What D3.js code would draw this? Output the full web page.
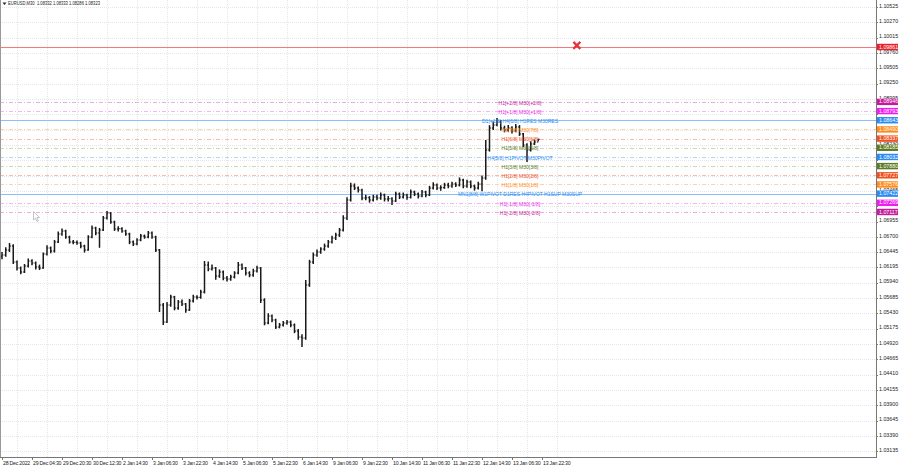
<!DOCTYPE html>
<html><head><meta charset="utf-8">
<script src="https://cdn.jsdelivr.net/npm/d3@7"></script>
<style>
body{margin:0;background:#fff;}
svg{display:block;font-family:"Liberation Sans",Arial,sans-serif;}
</style></head><body>
<svg id="c" width="900" height="468"></svg>
<script>
// ---------- DATA ----------
const chartTitle = "EURUSD,M30  1.08332 1.08333 1.08286 1.08323";
const firstOpen = 1.06380;
const closes = [1.06400,1.06483,1.06549,1.06283,1.06183,1.06117,1.06217,1.06300,1.06267,1.06200,
 1.06183,1.06416,1.06516,1.06466,1.06616,1.06749,1.06799,1.06699,1.06616,1.06610,
 1.06599,1.06549,1.06483,1.06699,1.06849,1.06766,1.06815,1.07015,1.07098,1.06949,
 1.06832,1.06838,1.06799,1.06749,1.06616,1.06583,1.06649,1.06716,1.06699,1.06766,
 1.06699,1.06483,1.05568,1.05285,1.05568,1.05701,1.05518,1.05618,1.05585,1.05485,
 1.05635,1.05701,1.05695,1.05784,1.06233,1.06167,1.06183,1.06050,1.06117,1.06017,
 1.06000,1.06034,1.06100,1.06233,1.06183,1.06100,1.06067,1.06134,1.06183,1.05651,
 1.05269,1.05385,1.05318,1.05202,1.05235,1.05269,1.05285,1.05235,1.05136,1.05036,
 1.05019,1.05901,1.06283,1.06400,1.06450,1.06499,1.06549,1.06616,1.06682,1.06732,
 1.06815,1.07015,1.07314,1.07547,1.07514,1.07481,1.07348,1.07352,1.07314,1.07364,
 1.07348,1.07398,1.07331,1.07335,1.07298,1.07414,1.07364,1.07398,1.07360,1.07448,
 1.07414,1.07381,1.07448,1.07398,1.07514,1.07564,1.07514,1.07520,1.07564,1.07547,
 1.07581,1.07564,1.07647,1.07547,1.07614,1.07547,1.07514,1.07581,1.07680,1.08146,
 1.08512,1.08562,1.08612,1.08512,1.08479,1.08512,1.08462,1.08529,1.08412,1.08229,
 1.08146,1.08246,1.08279,1.08323];
const highs = [1.06450,1.06530,1.06599,1.06580,1.06310,1.06210,1.06250,1.06340,1.06330,1.06290,
 1.06240,1.06440,1.06560,1.06540,1.06650,1.06790,1.06840,1.06820,1.06720,1.06650,
 1.06640,1.06620,1.06570,1.06730,1.06890,1.06870,1.06850,1.07050,1.07131,1.07110,
 1.06970,1.06880,1.06860,1.06820,1.06770,1.06640,1.06680,1.06750,1.06740,1.06800,
 1.06790,1.06720,1.06500,1.05600,1.05620,1.05740,1.05720,1.05650,1.05660,1.05600,
 1.05670,1.05740,1.05730,1.05820,1.06300,1.06290,1.06240,1.06200,1.06160,1.06140,
 1.06050,1.06070,1.06130,1.06283,1.06260,1.06200,1.06130,1.06170,1.06220,1.06200,
 1.05680,1.05430,1.05410,1.05340,1.05270,1.05300,1.05320,1.05310,1.05260,1.05170,
 1.05080,1.05984,1.06320,1.06440,1.06490,1.06530,1.06590,1.06650,1.06720,1.06770,
 1.06850,1.07060,1.07360,1.07600,1.07590,1.07540,1.07500,1.07400,1.07380,1.07400,
 1.07400,1.07440,1.07420,1.07380,1.07360,1.07450,1.07440,1.07440,1.07420,1.07490,
 1.07470,1.07440,1.07480,1.07470,1.07550,1.07610,1.07590,1.07560,1.07600,1.07600,
 1.07620,1.07610,1.07690,1.07670,1.07650,1.07640,1.07570,1.07620,1.07720,1.08312,
 1.08560,1.08620,1.08679,1.08640,1.08550,1.08560,1.08540,1.08580,1.08560,1.08430,
 1.08260,1.08290,1.08320,1.08333];
const lows = [1.06330,1.06370,1.06450,1.06250,1.06140,1.06080,1.06100,1.06190,1.06230,1.06160,
 1.06150,1.06170,1.06390,1.06430,1.06440,1.06600,1.06720,1.06670,1.06590,1.06580,
 1.06570,1.06510,1.06440,1.06470,1.06680,1.06730,1.06520,1.06800,1.06990,1.06920,
 1.06800,1.06790,1.06770,1.06720,1.06580,1.06550,1.06560,1.06630,1.06670,1.06680,
 1.06670,1.06450,1.05452,1.05235,1.05270,1.05540,1.05480,1.05490,1.05550,1.05440,
 1.05470,1.05610,1.05660,1.05670,1.05760,1.06130,1.06140,1.05990,1.06020,1.05980,
 1.05960,1.05970,1.06010,1.06080,1.06150,1.06060,1.06030,1.06040,1.06110,1.05600,
 1.05230,1.05250,1.05280,1.05170,1.05180,1.05210,1.05240,1.05200,1.05100,1.04990,
 1.04869,1.04990,1.05870,1.06250,1.06370,1.06420,1.06470,1.06520,1.06590,1.06650,
 1.06700,1.06790,1.06980,1.07290,1.07480,1.07440,1.07310,1.07310,1.07270,1.07290,
 1.07310,1.07320,1.07290,1.07290,1.07230,1.07280,1.07330,1.07340,1.07320,1.07340,
 1.07380,1.07340,1.07360,1.07360,1.07380,1.07490,1.07480,1.07470,1.07500,1.07510,
 1.07520,1.07530,1.07540,1.07510,1.07520,1.07510,1.07470,1.07490,1.07460,1.07650,
 1.08120,1.08480,1.08540,1.08470,1.08440,1.08450,1.08420,1.08440,1.08380,1.08190,
 1.07947,1.08120,1.08230,1.08286];
const timeLabels = ["28 Dec 2022","29 Dec 04:30","29 Dec 20:30","30 Dec 12:30","2 Jan 14:30",
 "3 Jan 06:30","3 Jan 22:30","4 Jan 14:30","5 Jan 06:30","5 Jan 22:30","6 Jan 14:30",
 "9 Jan 06:30","9 Jan 22:30","10 Jan 14:30","11 Jan 06:30","11 Jan 22:30","12 Jan 14:30",
 "13 Jan 06:30","13 Jan 22:30"];
const priceTickLabels = ["1.10525","1.10270","1.10015","1.09760","1.09505","1.09250","1.08995",
 "1.08740","1.08485","1.08230","1.07975","1.07720","1.07465","1.07210","1.06955","1.06700",
 "1.06445","1.06195","1.05940","1.05685","1.05430","1.05175","1.04920","1.04665","1.04410",
 "1.04155","1.03900","1.03645","1.03390","1.03135"];
// tick labels hidden behind the coloured price boxes in the reference
const coveredTickLabels = ["1.08740","1.08485","1.07975","1.07720","1.07210"];
const levelPrices = [1.08948,1.08795,1.08643,1.08490,1.08337,1.08185,1.08032,1.07880,1.07727,1.07575,1.07422,1.07269,1.07117];
const levelAxisLabels = ["1.08946","1.08793","1.08643","1.08490","1.08337","1.08185","1.08032","1.07880","1.07727","1.07576","1.07422","1.07269","1.07117"];
const levelTexts = ["H1[+2/8] M30[+2/8]","H1[+1/8] M30[+1/8]","D1[+1/8] H4[6/8] H1RES M30RES",
 "H1[7/8] M30[7/8]","H1[6/8] M30[6/8]","H1[5/8] M30[5/8]","H4[5/8] H1PIVOT M30PIVOT",
 "H1[3/8] M30[3/8]","H1[2/8] M30[2/8]","H1[1/8] M30[1/8]",
 "MN1[8/8] W1PIVOT D1RES H4PIVOT H1SUP M30SUP","H1[-1/8] M30[-1/8]","H1[-2/8] M30[-2/8]"];
const levelKinds = ["p2","p1","major","o","r","g","blue","g","r","o","major","p1","p2"];
const alertPrice = 1.09861, alertLabel = "1.09861", alertBar = 153.3;

// ---------- STYLES ----------
const kindColor = {p2:"#c8189c", p1:"#f01cf0", major:"#2a8cf0", blue:"#2a8cf0", o:"#ff8c1a", r:"#f0501e", g:"#5e7a22"};
const kindLine  = {p2:"#e8b0dc", p1:"#f8b4f8", major:"#8cc0f4", blue:"#b4d6f8", o:"#fcd4aa", r:"#f8bca8", g:"#ccd8b6"};

// ---------- LAYOUT ----------
const svg = d3.select("#c");
const plotR = 876, plotB = 457;
const y = d3.scaleLinear().domain([1.03040, 1.10641]).range([plotB, 0]);
const x = d3.scaleLinear().domain([0, 232]).range([2, 872]);

svg.append("rect").attr("width",900).attr("height",468).attr("fill","#fff");

// grid
const g = svg.append("g");
priceTickLabels.forEach(t=>{
  const yy = Math.round(y(+t))+0.5;
  g.append("line").attr("x1",0).attr("x2",plotR).attr("y1",yy).attr("y2",yy)
   .attr("stroke","#e6e6e6").attr("stroke-dasharray","1,1");
});
timeLabels.forEach((t,k)=>{
  const xx = Math.round(x(k*8+4))+0.5;
  g.append("line").attr("x1",xx).attr("x2",xx).attr("y1",0).attr("y2",plotB)
   .attr("stroke","#e6e6e6").attr("stroke-dasharray","1,1");
});

// level lines
const lv = svg.append("g");
levelPrices.forEach((p,i)=>{
  const k = levelKinds[i];
  const yy = Math.round(y(p))+0.5;
  const ln = lv.append("line").attr("x1",0).attr("x2",plotR).attr("y1",yy).attr("y2",yy)
    .attr("stroke",kindLine[k]).attr("stroke-width",1);
  if(k!=="major") ln.attr("stroke-dasharray","4,2,1,2");
});
lv.append("rect").attr("x",0).attr("width",plotR)
  .attr("y",Math.round(y(alertPrice))).attr("height",1)
  .attr("fill","#f47a7a");

// bars (OHLC)
const bars = svg.append("g").attr("stroke","#1a1a1a");
closes.forEach((c,i)=>{
  const o = i===0 ? firstOpen : closes[i-1];
  const xx = x(i);
  bars.append("line").attr("x1",xx).attr("x2",xx).attr("y1",y(highs[i])).attr("y2",y(lows[i])).attr("stroke-width",1.5);
  bars.append("line").attr("x1",xx-1.4).attr("x2",xx).attr("y1",y(o)).attr("y2",y(o)).attr("stroke-width",1.1);
  bars.append("line").attr("x1",xx).attr("x2",xx+1.4).attr("y1",y(c)).attr("y2",y(c)).attr("stroke-width",1.1);
});

// level texts
const lt = svg.append("g").attr("font-size","5px").attr("text-anchor","middle");
levelPrices.forEach((p,i)=>{
  lt.append("text").attr("x",520).attr("y",y(p)+1.5).attr("dominant-baseline","middle")
    .attr("fill",kindColor[levelKinds[i]]).text(levelTexts[i]);
});

// alert X
const ax = x(alertBar), ay = y(alertPrice)-1.5;
svg.append("path").attr("d",`M${ax-3.5},${ay-3.5}L${ax+3.5},${ay+3.5}M${ax+3.5},${ay-3.5}L${ax-3.5},${ay+3.5}`)
  .attr("stroke","#e8323c").attr("stroke-width",2.2);

// cursor icon
svg.append("path").attr("d","M33.5,211.5 L33.5,220 L35.5,218.2 L37,221.5 L38.3,220.9 L36.8,217.6 L39.5,217.6 Z")
  .attr("fill","#fff").attr("stroke","#aaa").attr("stroke-width",0.7);

// frame
svg.append("line").attr("x1",0.5).attr("x2",0.5).attr("y1",0).attr("y2",plotB).attr("stroke","#999");
svg.append("line").attr("x1",plotR+0.5).attr("x2",plotR+0.5).attr("y1",0).attr("y2",plotB+1).attr("stroke","#777");
svg.append("line").attr("x1",0).attr("x2",plotR+1).attr("y1",plotB+0.5).attr("y2",plotB+0.5).attr("stroke","#777");

// price axis
const pa = svg.append("g").attr("font-size","5.3px");
priceTickLabels.forEach(t=>{
  const yy = y(+t);
  pa.append("line").attr("x1",plotR).attr("x2",plotR+2).attr("y1",Math.round(yy)+0.5).attr("y2",Math.round(yy)+0.5).attr("stroke","#777");
  if(!coveredTickLabels.includes(t))
    pa.append("text").attr("x",879).attr("y",yy-0.6).attr("dominant-baseline","middle").attr("fill","#222").text(t);
});
function box(p, label, color){
  const yy = y(p);
  pa.append("rect").attr("x",877).attr("y",yy-3.1).attr("width",21).attr("height",6.4).attr("fill",color);
  pa.append("text").attr("x",879).attr("y",yy+0.3).attr("dominant-baseline","middle").attr("fill","#fff").text(label);
}
box(alertPrice, alertLabel, "#e8202a");
levelPrices.forEach((p,i)=>box(p, levelAxisLabels[i], kindColor[levelKinds[i]]));

// time axis
const ta = svg.append("g").attr("font-size","5.2px").attr("letter-spacing","-0.22px").attr("fill","#222");
timeLabels.forEach((t,k)=>{
  const xx = Math.round(x(k*8))+0.5;
  ta.append("line").attr("x1",xx).attr("x2",xx).attr("y1",plotB).attr("y2",plotB+3).attr("stroke","#777");
  ta.append("text").attr("x",xx+0.5).attr("y",463.5).attr("dominant-baseline","middle").text(t);
});

// title
svg.append("path").attr("d","M2.5,2.5 L6.5,2.5 L4.5,5 Z").attr("fill","#222");
svg.append("text").attr("x",8).attr("y",4).attr("dominant-baseline","middle").attr("font-size","5.2px")
  .attr("fill","#222").attr("xml:space","preserve").attr("textLength",92).attr("lengthAdjust","spacingAndGlyphs")
  .text(chartTitle);
</script>
</body></html>
